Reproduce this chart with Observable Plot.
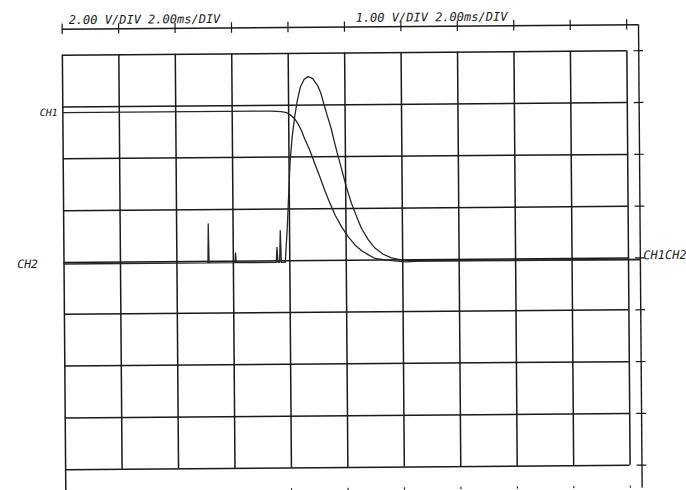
<!DOCTYPE html>
<html>
<head>
<meta charset="utf-8">
<script src="https://cdn.jsdelivr.net/npm/d3@7"></script>
<script src="https://cdn.jsdelivr.net/npm/@observablehq/plot@0.6"></script>
<style>
  html, body { margin: 0; padding: 0; background: #fff; }
  #chart { width: 686px; height: 490px; overflow: hidden; background: #fff; }
</style>
</head>
<body>
<div id="chart"></div>
<script>
// ---- Data (time in ms, amplitude in volts) ----
const ch1VoltsPerDiv = 2.0;
const ch2VoltsPerDiv = 1.0;
const msPerDiv = 2.0;

const ch1TimeMs = [0, 7.39, 7.74, 7.92, 8.09, 8.21, 8.33, 8.45, 8.56, 8.74, 8.91, 9.09, 9.26, 9.44, 9.62, 9.85, 10.08, 10.32, 10.55, 10.79, 11.02, 11.37, 11.72, 12.1, 12.6, 20.42];
const ch1Volts  = [5.78, 5.78, 5.76, 5.72, 5.60, 5.48, 5.28, 5.02, 4.70, 4.26, 3.74, 3.22, 2.70, 2.20, 1.74, 1.28, 0.90, 0.58, 0.36, 0.20, 0.06, 0.0, -0.04, -0.08, -0.06, -0.06];

const ch2TimeMs = [0, 5.10, 5.12, 5.14, 6.06, 6.08, 6.10, 7.52, 7.55, 7.58, 7.64, 7.67, 7.70, 7.84, 7.92, 7.98, 8.04, 8.12, 8.21, 8.31, 8.42, 8.56, 8.70, 8.86, 9.03, 9.15, 9.26, 9.38, 9.50, 9.61, 9.73, 9.87, 10.02, 10.20, 10.38, 10.55, 10.79, 11.02, 11.31, 11.60, 11.95, 12.30, 20.42];
const ch2Volts  = [-0.03, -0.03, 0.72, -0.03, -0.03, 0.16, -0.03, -0.03, 0.26, -0.03, -0.03, 0.58, -0.03, -0.03, 0.64, 1.29, 1.93, 2.39, 2.77, 3.09, 3.35, 3.50, 3.55, 3.51, 3.38, 3.22, 3.00, 2.77, 2.55, 2.29, 2.03, 1.74, 1.42, 1.10, 0.84, 0.61, 0.39, 0.23, 0.11, 0.04, 0.0, -0.02, -0.03];

const headerLabels = ["2.00 V/DIV 2.00ms/DIV", "1.00 V/DIV 2.00ms/DIV"];
const headerTimeMs = [0.23, 10.4];
const channelNames = ["CH1", "CH2"];
const endLabel = "CH1CH2";

// graticule: 10 horizontal divisions, 8 vertical divisions
const gridTimes = d3.range(0, 10 * msPerDiv + 0.001, msPerDiv);
const gridDivs = d3.range(-4, 5, 1);
const bottomTickTimes = gridTimes.filter(t => t >= 8);
const rulerDiv = 4.5;
const rulerTime = 20.42;

const ch1 = ch1TimeMs.map((t, i) => ({t, v: ch1Volts[i] / ch1VoltsPerDiv}));
const ch2 = ch2TimeMs.map((t, i) => ({t, v: ch2Volts[i] / ch2VoltsPerDiv}));

const ink = "#1a1a1a";
const trace = "#262626";
const mono = "DejaVu Sans Mono, Liberation Mono, monospace";

const chart = Plot.plot({
  width: 686,
  height: 490,
  marginLeft: 63.5,
  marginRight: 58,
  marginTop: 52.5,
  marginBottom: 23,
  x: {domain: [0, 20], axis: null},
  y: {domain: [-4, 4], axis: null},
  style: {background: "white"},
  marks: [
    // graticule
    Plot.ruleY(gridDivs, {y: d => d, x1: 0, x2: 20, stroke: ink, strokeWidth: 1.5}),
    Plot.ruleX(gridTimes, {x: d => d, y1: -4, y2: 4, stroke: ink, strokeWidth: 1.5}),
    Plot.ruleX([0], {x: d => d, y1: -4, y2: -4.6, stroke: ink, strokeWidth: 1.5}),
    // top ruler
    Plot.ruleY([rulerDiv], {y: d => d, x1: 0, x2: rulerTime, stroke: ink, strokeWidth: 1.4}),
    Plot.ruleX(gridTimes, {x: d => d, y1: rulerDiv - 0.1, y2: rulerDiv + 0.1, stroke: ink, strokeWidth: 1.2}),
    // right ruler
    Plot.ruleX([rulerTime], {x: d => d, y1: rulerDiv, y2: -rulerDiv - 0.2, stroke: ink, strokeWidth: 1.4}),
    Plot.ruleY(gridDivs, {y: d => d, x1: rulerTime - 0.17, x2: rulerTime + 0.17, stroke: ink, strokeWidth: 1.2}),
    // bottom ruler ticks (cut off)
    Plot.ruleX(bottomTickTimes, {x: d => d, y1: -4.4, y2: -4.6, stroke: ink, strokeWidth: 1.1}),
    // traces
    Plot.line(ch1, {x: "t", y: "v", stroke: trace, strokeWidth: 1.3, curve: "linear"}),
    Plot.line(ch2, {x: "t", y: "v", stroke: trace, strokeWidth: 1.3, curve: "linear"}),
    // header labels
    Plot.text(headerLabels, {x: (d, i) => headerTimeMs[i], y: rulerDiv, text: d => d, textAnchor: "start", dy: -9,
      fontFamily: mono, fontStyle: "italic", fontSize: 12, fill: ink}),
    // channel labels
    Plot.text([channelNames[0]], {x: 0, y: ch1[0].v, text: d => d, textAnchor: "end", dx: -5, dy: 0,
      fontFamily: mono, fontStyle: "italic", fontSize: 10, fill: ink}),
    Plot.text([channelNames[1]], {x: 0, y: ch2[0].v, text: d => d, textAnchor: "end", dx: -26, dy: 0,
      fontFamily: mono, fontStyle: "italic", fontSize: 11.5, fill: ink}),
    Plot.text([endLabel], {x: rulerTime, y: 0.05, text: d => d, textAnchor: "start", dx: 3,
      fontFamily: mono, fontStyle: "italic", fontSize: 12, fill: ink})
  ]
});

chart.style.transformOrigin = "345px 260px";
chart.style.transform = "rotate(-0.45deg)";
document.getElementById("chart").appendChild(chart);
</script>
</body>
</html>
